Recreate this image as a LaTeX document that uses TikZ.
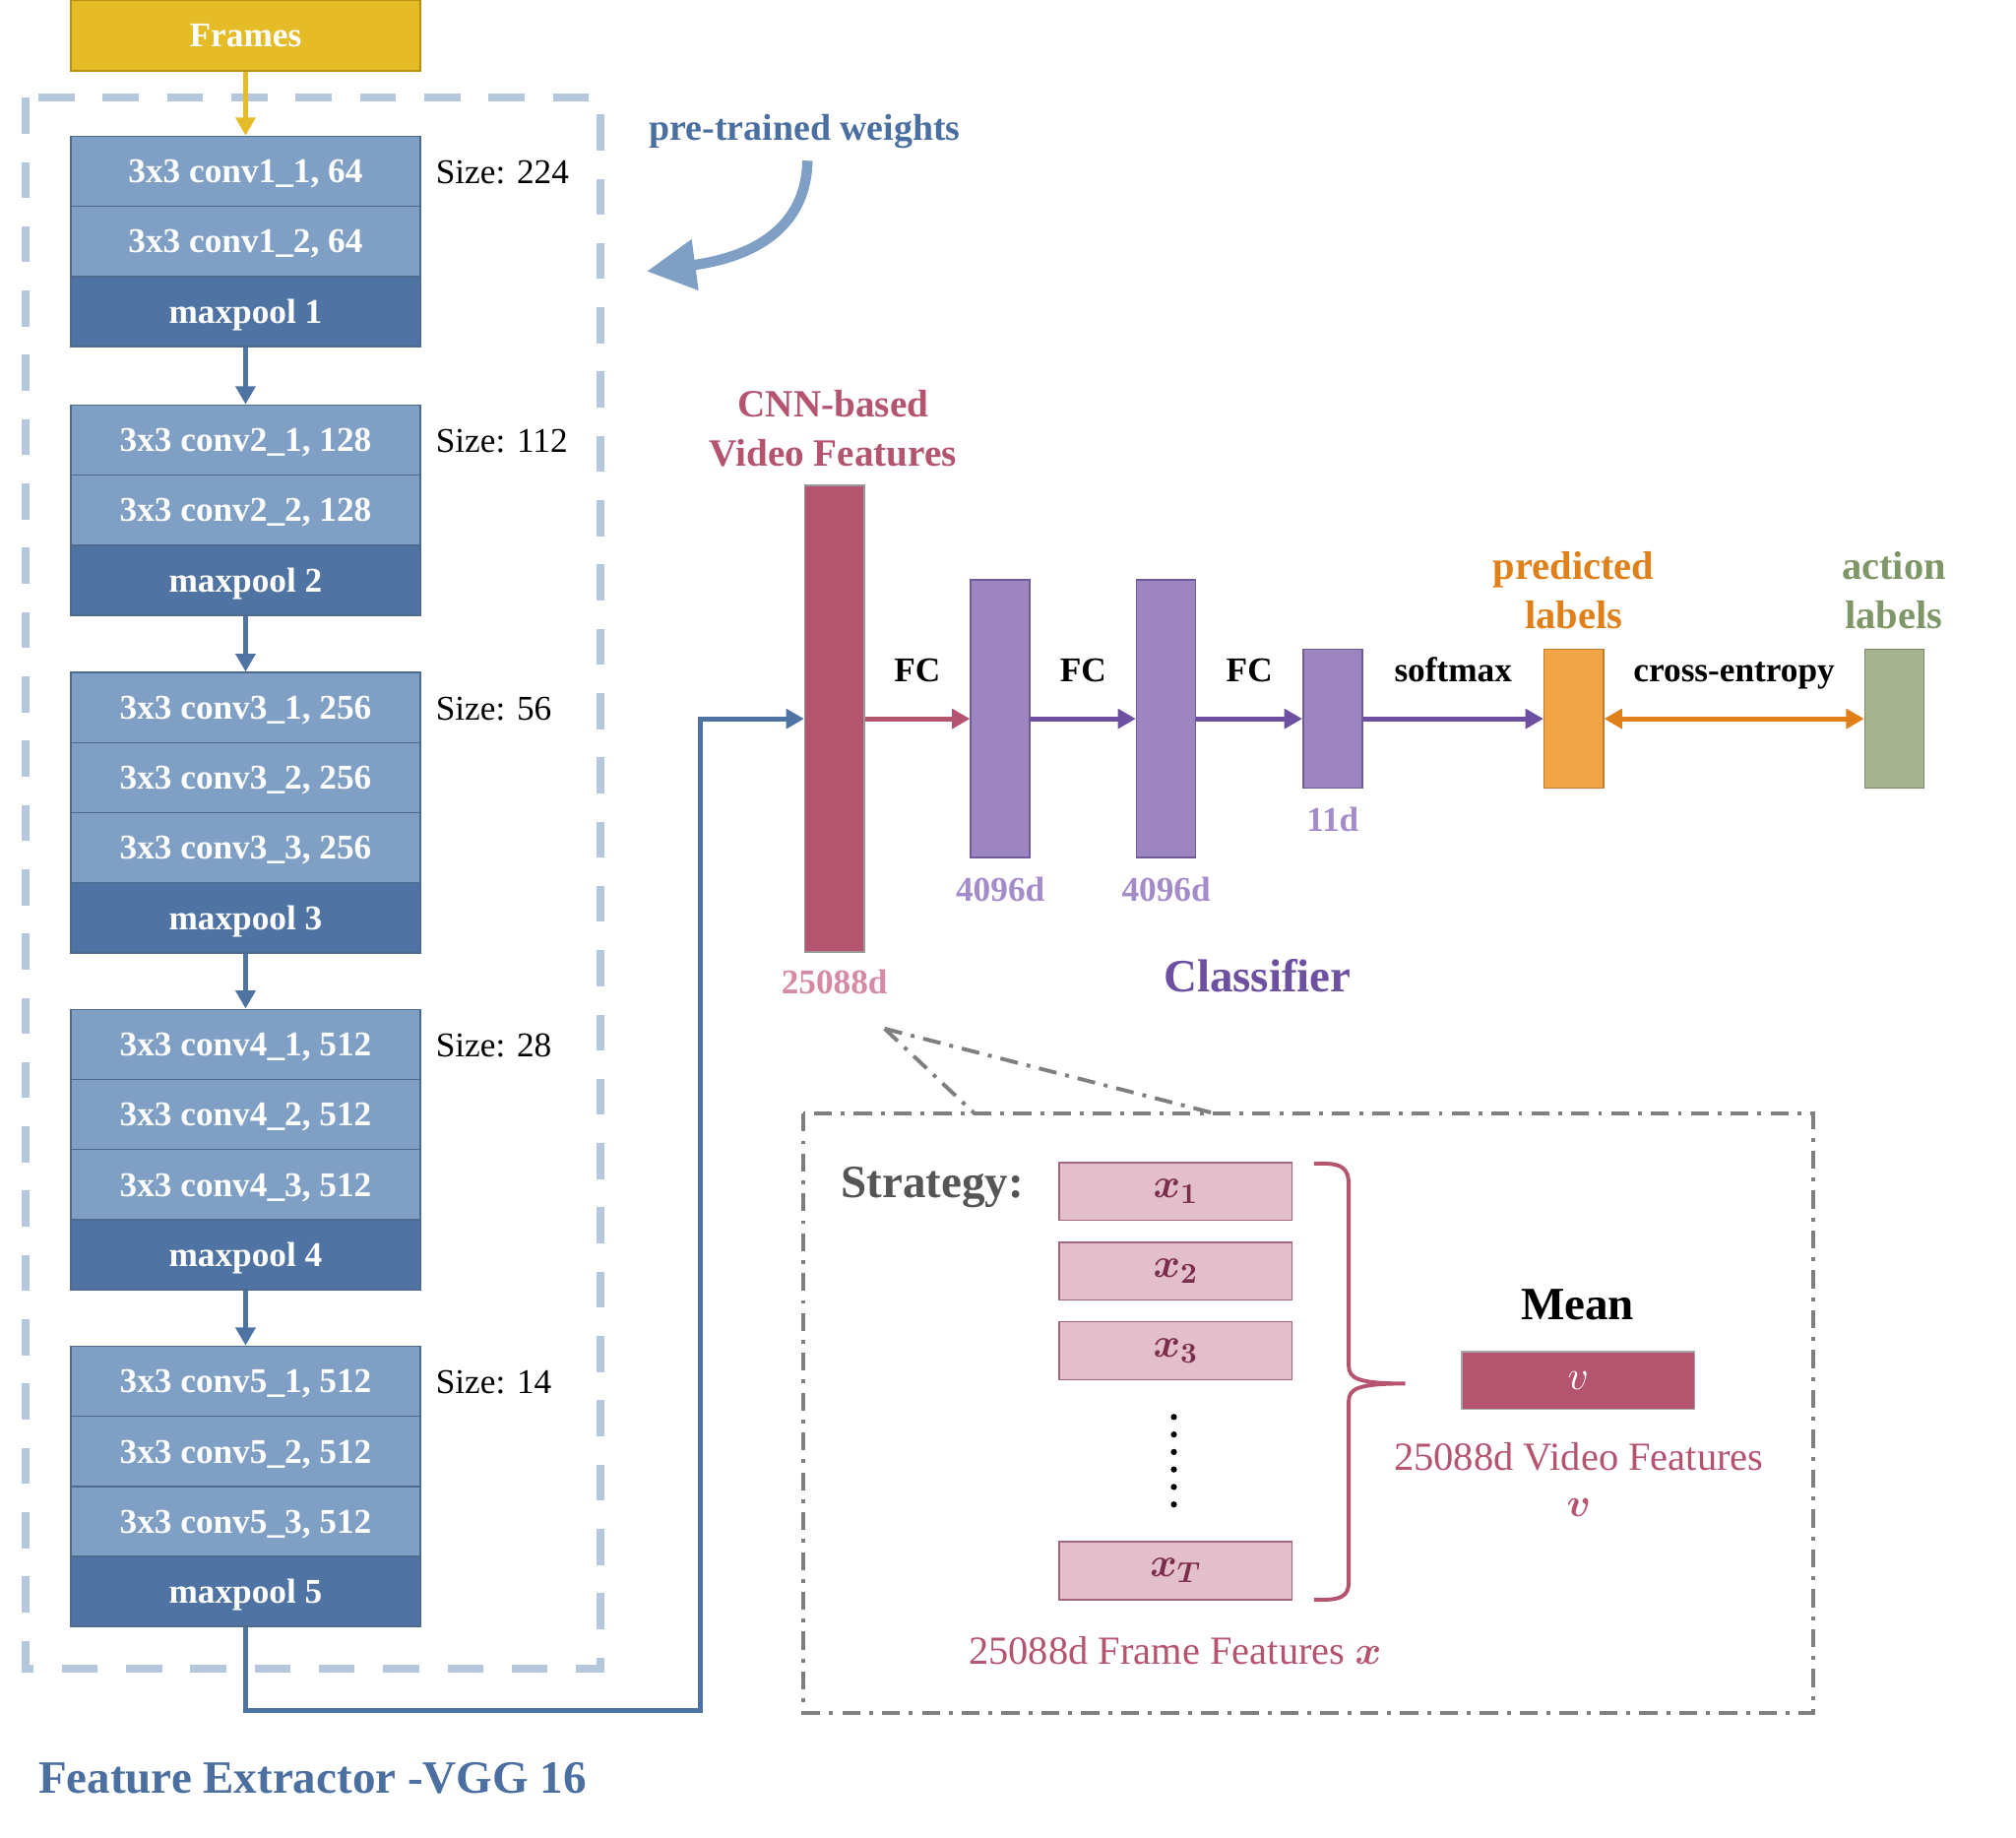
\RequirePackage{fix-cm}
\documentclass[tikz,border=0pt]{standalone}
\usepackage{fontspec}
\setmainfont{Liberation Serif}
\usetikzlibrary{arrows.meta,calc}

\definecolor{goldfill}{HTML}{E5BC27}
\definecolor{goldedge}{HTML}{B59212}
\definecolor{convfill}{HTML}{7F9FC4}
\definecolor{poolfill}{HTML}{4F74A3}
\definecolor{vggedge}{HTML}{4D6A8F}
\definecolor{dashblue}{HTML}{B4C7DD}
\definecolor{titleblue}{HTML}{4A6FA0}
\definecolor{rose}{HTML}{B5546F}
\definecolor{roselight}{HTML}{D48BA3}
\definecolor{lavfill}{HTML}{9D86C0}
\definecolor{lavedge}{HTML}{6F5B99}
\definecolor{lavtext}{HTML}{A48CCB}
\definecolor{clsviolet}{HTML}{6E50A2}
\definecolor{orfill}{HTML}{F2A546}
\definecolor{oredge}{HTML}{C47C2C}
\definecolor{ortext}{HTML}{E0801A}
\definecolor{grfill}{HTML}{A6B590}
\definecolor{gredge}{HTML}{7A8A66}
\definecolor{grtext}{HTML}{7F9668}
\definecolor{panelgray}{HTML}{7F7F7F}
\definecolor{strtext}{HTML}{555555}
\definecolor{xfill}{HTML}{E3BECB}
\definecolor{xedge}{HTML}{A36680}
\definecolor{xtext}{HTML}{7B2D4C}

\newcommand{\fsz}[2]{\fontsize{#1}{#2}\selectfont}

\begin{document}
\begin{tikzpicture}[x=0.5pt,y=-0.5pt,
  conv/.style={draw=vggedge, fill=convfill, line width=0.6pt,
    minimum width=136pt, minimum height=27.25pt, inner sep=0pt,
    text=white, text height=9pt, text depth=0pt, font=\bfseries\fsz{13.5}{16}},
  pool/.style={conv, fill=poolfill},
  flow/.style={line width=2pt, -{Triangle[length=7pt,width=7.5pt]}},
  sizelbl/.style={anchor=west, inner sep=0pt, font=\fsz{13.5}{16}},
  vec/.style={minimum width=23pt, inner sep=0pt, line width=0.6pt},
  dimlbl/.style={anchor=base, font=\bfseries\fsz{13.5}{16}},
  oplbl/.style={anchor=base, yshift=14.5pt, font=\bfseries\fsz{13.5}{16}, text=black},
  dashdot/.style={draw=panelgray, line width=1.5pt,
    dash pattern=on 7pt off 3.5pt on 1.5pt off 3.5pt},
  xbox/.style={draw=xedge, fill=xfill, line width=0.6pt,
    minimum width=90.5pt, minimum height=22.5pt, inner sep=0pt,
    text=xtext, font=\fsz{16}{19}},
]
\useasboundingbox (0,0) rectangle (1568,1429);

% ---------------- input frames ----------------
\node[draw=goldedge, fill=goldfill, line width=0.6pt, minimum width=136pt,
  minimum height=27.5pt, inner sep=0pt, text=white, font=\bfseries\fsz{13.5}{16}]
  (frames) at (191,27.5) {Frames};

% ---------------- VGG 16 feature extractor ----------------
\draw[draw=dashblue, line width=3pt, dash pattern=on 14pt off 11pt]
  (20,76) rectangle (467,1298);

\node[conv] (c11) at (191,133.25) {3x3 conv1\_1, 64};
\node[conv] (c12) at (191,187.75) {3x3 conv1\_2, 64};
\node[pool] (p1)  at (191,242.25) {maxpool 1};

\node[conv] (c21) at (191,342.25) {3x3 conv2\_1, 128};
\node[conv] (c22) at (191,396.75) {3x3 conv2\_2, 128};
\node[pool] (p2)  at (191,451.25) {maxpool 2};

\node[conv] (c31) at (191,550.25) {3x3 conv3\_1, 256};
\node[conv] (c32) at (191,604.75) {3x3 conv3\_2, 256};
\node[conv] (c33) at (191,659.25) {3x3 conv3\_3, 256};
\node[pool] (p3)  at (191,713.75) {maxpool 3};

\node[conv] (c41) at (191,812.25) {3x3 conv4\_1, 512};
\node[conv] (c42) at (191,866.75) {3x3 conv4\_2, 512};
\node[conv] (c43) at (191,921.25) {3x3 conv4\_3, 512};
\node[pool] (p4)  at (191,975.75) {maxpool 4};

\node[conv] (c51) at (191,1074.25) {3x3 conv5\_1, 512};
\node[conv] (c52) at (191,1128.75) {3x3 conv5\_2, 512};
\node[conv] (c53) at (191,1183.25) {3x3 conv5\_3, 512};
\node[pool] (p5)  at (191,1237.75) {maxpool 5};

\node[sizelbl] (s1) at ($(c11.east)+(11,1)$) {Size: 224};
\node[sizelbl] (s2) at ($(c21.east)+(11,1)$) {Size: 112};
\node[sizelbl] (s3) at ($(c31.east)+(11,1)$) {Size: 56};
\node[sizelbl] (s4) at ($(c41.east)+(11,1)$) {Size: 28};
\node[sizelbl] (s5) at ($(c51.east)+(11,1)$) {Size: 14};

\draw[flow, draw=goldfill] (frames.south) -- (c11.north);
\draw[flow, draw=poolfill] (p1.south) -- (c21.north);
\draw[flow, draw=poolfill] (p2.south) -- (c31.north);
\draw[flow, draw=poolfill] (p3.south) -- (c41.north);
\draw[flow, draw=poolfill] (p4.south) -- (c51.north);

\node[font=\bfseries\fsz{18}{22}, text=titleblue] (vggtitle) at (243,1383)
  {Feature Extractor -VGG 16};

% pre-trained weights
\node[font=\bfseries\fsz{14.5}{17}, text=titleblue] (pw) at (626,102) {pre-trained weights};
\coordinate (pwtail) at (628,125);
\coordinate (pwtip) at (503,211);
\draw[line width=4pt, draw=convfill, -{Triangle[length=19pt,width=19pt]}]
  (pwtail) .. controls (627,178) and (585,200) .. (pwtip);

% ---------------- classifier ----------------
\node[align=center, font=\bfseries\fsz{15}{19}, text=rose] (cnnlbl) at (648,333)
  {CNN-based\\Video Features};

\node[vec, draw=gray!80, fill=rose, minimum height=181.5pt] (feat) at (649,559) {};
\node[vec, draw=lavedge, fill=lavfill, minimum height=108pt] (fc1) at (778,559) {};
\node[vec, draw=lavedge, fill=lavfill, minimum height=108pt] (fc2) at (907,559) {};
\node[vec, draw=lavedge, fill=lavfill, minimum height=54pt] (fc3) at (1036.5,559) {};
\node[vec, draw=oredge, fill=orfill, minimum height=54pt] (pred) at (1224,559) {};
\node[vec, draw=gredge, fill=grfill, minimum height=54pt] (gt) at (1473.5,559) {};

\node[dimlbl, text=roselight] (featdim) at ($(feat.south)+(0,32)$) {25088d};
\node[dimlbl, text=lavtext] (fc1dim) at ($(fc1.south)+(0,33)$) {4096d};
\node[dimlbl, text=lavtext] (fc2dim) at ($(fc2.south)+(0,33)$) {4096d};
\node[dimlbl, text=lavtext] (fc3dim) at ($(fc3.south)+(0,33)$) {11d};

\node[align=center, font=\bfseries\fsz{15.5}{19}, text=ortext] (predlbl) at (1224,459)
  {predicted\\labels};
\node[align=center, font=\bfseries\fsz{15.5}{19}, text=grtext] (gtlbl) at (1473,459)
  {action\\labels};

\draw[flow, draw=rose] (feat.east) -- node[oplbl] {FC} (fc1.west);
\draw[flow, draw=clsviolet] (fc1.east) -- node[oplbl] {FC} (fc2.west);
\draw[flow, draw=clsviolet] (fc2.east) -- node[oplbl] {FC} (fc3.west);
\draw[flow, draw=clsviolet] (fc3.east) -- node[oplbl] {softmax} (pred.west);
\draw[line width=2pt, draw=ortext, {Triangle[length=7pt,width=7.5pt]}-{Triangle[length=7pt,width=7.5pt]}]
  (pred.east) -- node[oplbl] {cross-entropy} (gt.west);

\node[anchor=base, font=\bfseries\fsz{18}{22}, text=clsviolet] (clslbl) at (978,771) {Classifier};

% link from the last pooling layer to the video feature vector
\coordinate (bend) at (545,1330);
\draw[flow, draw=poolfill] (p5.south) |- (bend) |- (feat.west);

% ---------------- pooling strategy panel ----------------
\coordinate (zsrc) at (688,800);
\coordinate (zl) at (758,866);
\coordinate (zr) at (945,866);
\draw[dashdot] (zsrc) -- (zl);
\draw[dashdot] (zsrc) -- (zr);
\draw[dashdot] (625,866) rectangle (1410,1332);

\node[anchor=base west, inner sep=0pt, font=\bfseries\fsz{18}{22}, text=strtext] (strat) at (654,931) {Strategy:};

\node[xbox] (x1) at (914.5,926.5) {{\boldmath$x_1$}};
\node[xbox] (x2) at (914.5,988.5) {{\boldmath$x_2$}};
\node[xbox] (x3) at (914.5,1050.5) {{\boldmath$x_3$}};
\node[xbox] (xT) at (914.5,1221.5) {{\boldmath$x_T$}};
\foreach \k in {0,...,5}
  \fill (913,{1102+13.6*\k}) circle[radius=1.2pt];

\draw[draw=rose, line width=1.5pt]
  (1022,905) .. controls (1044,904) and (1049,908) .. (1049,922)
  -- (1049,1062) .. controls (1049,1072) and (1056,1076) .. (1093,1076)
  (1093,1076) .. controls (1056,1076) and (1049,1080) .. (1049,1090)
  -- (1049,1230) .. controls (1049,1241) and (1044,1245) .. (1022,1244);

\node[anchor=base, font=\bfseries\fsz{18}{22}] (meanlbl) at (1227,1026) {Mean};
\node[draw=gray!70, fill=rose, line width=0.6pt, minimum width=90.5pt, minimum height=22.5pt,
  inner sep=0pt, text=white, font=\fsz{16}{19}] (vmean) at (1227.5,1073.5) {$v$};
\node[align=center, font=\fsz{15.5}{18}, text=rose] (vlbl) at (1228,1151)
  {25088d Video Features\\{\boldmath$v$}};
\node[font=\fsz{15.5}{18}, text=rose] (xlbl) at (914,1284)
  {25088d Frame Features {\boldmath$x$}};

\end{tikzpicture}
\end{document}
